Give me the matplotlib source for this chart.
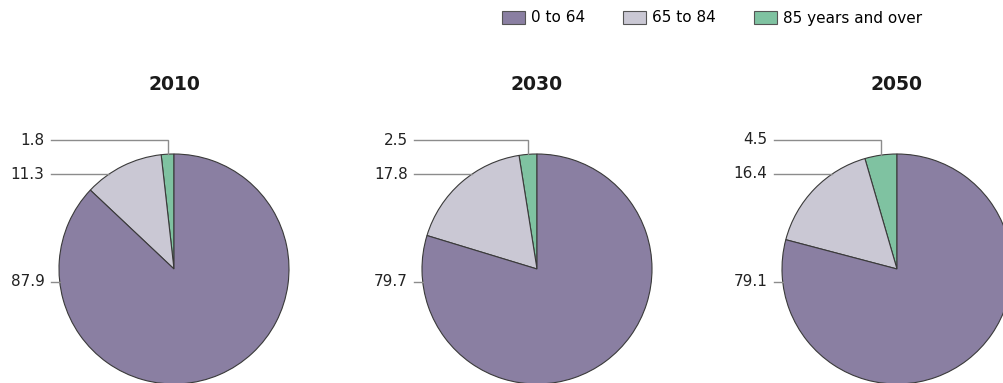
import numpy as np
import matplotlib
matplotlib.use("Agg")
from matplotlib import pyplot as plt
from matplotlib.patches import Patch

years = ['2010', '2030', '2050']
age_groups = ['0 to 64', '65 to 84', '85 years and over']
share_0_64 = [87.9, 79.7, 79.1]
share_65_84 = [11.3, 17.8, 16.4]
share_85_plus = [1.8, 2.5, 4.5]

colors = {'0 to 64': '#8a7fa2', '65 to 84': '#cac8d4', '85 years and over': '#7fc2a1'}

W, H = 1004, 383
R = 115                     # pie radius in pixels
CY = 269                    # pie centre (pixels from top)
centres_x = [174, 537, 897]
label_y_px = [140, 174, 282]  # label rows for 85+, 65-84, 0-64

fig = plt.figure(figsize=(W / 100, H / 100), dpi=100)
plt.rcParams['font.family'] = 'DejaVu Sans'

for i, year in enumerate(years):
    cx = centres_x[i]
    ax = fig.add_axes([(cx - R) / W, (H - CY - R) / H, 2 * R / W, 2 * R / H])
    vals = [share_85_plus[i], share_65_84[i], share_0_64[i]]
    cols = [colors['85 years and over'], colors['65 to 84'], colors['0 to 64']]
    wedges, _ = ax.pie(vals, colors=cols, startangle=90, counterclock=True,
                       wedgeprops=dict(edgecolor='#3a3a3a', linewidth=0.8))
    for w in wedges:
        w.set_clip_on(False)
    ax.set_xlim(-1, 1)
    ax.set_ylim(-1, 1)
    ax.set_aspect('equal')
    ax.axis('off')

    ax.text(0, (CY - 84) / R, year, ha='center', va='center',
            fontsize=13.5, fontweight='bold', color='#1a1a1a')

    # leader lines + labels
    total = sum(vals)
    start = 90.0
    for v, ly_px in zip(vals, label_y_px):
        span = 360.0 * v / total
        mid = np.radians(start + span / 2)
        start += span
        ly = (CY - ly_px) / R
        x0 = -1.07
        if ly > 1:
            px, py = np.cos(mid), np.sin(mid)
            xs, ys = [x0, px, px], [ly, ly, py]
        else:
            xe = -np.sqrt(1 - ly ** 2)
            xs, ys = [x0, xe], [ly, ly]
        ax.plot(xs, ys, color='#8c8c8c', lw=1, clip_on=False, solid_joinstyle='miter')
        ax.text(-1.125, ly, f'{v:.1f}', ha='right', va='center',
                fontsize=11, color='#222222', clip_on=False)

handles = [Patch(facecolor=colors[g], edgecolor='#555555', linewidth=0.8) for g in age_groups]
fig.legend(handles, age_groups, loc='center left', bbox_to_anchor=(502 / W, 1 - 18 / H),
           ncol=3, frameon=False, fontsize=11, handlelength=1.5, handleheight=0.95,
           handletextpad=0.4, columnspacing=2.5, borderaxespad=0, borderpad=0)

fig.savefig('out.png', dpi=100)
